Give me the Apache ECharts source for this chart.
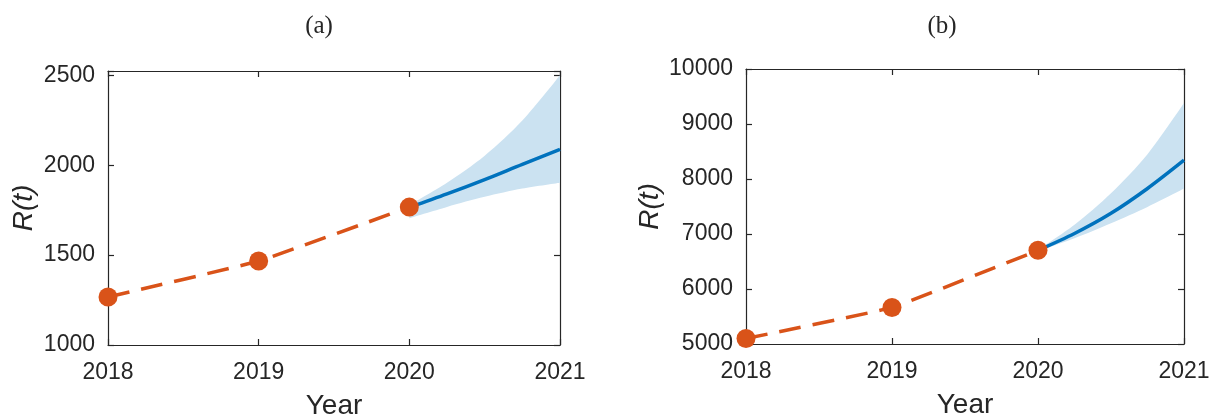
<!DOCTYPE html>
<html>
<head>
<meta charset="utf-8">
<script src="https://cdn.jsdelivr.net/npm/echarts@6/dist/echarts.min.js"></script>
<style>html,body{margin:0;padding:0;background:#fff}#c{width:1215px;height:417px}</style>
</head>
<body>
<div id="c"></div>
<script>
// ---- data ----
const obsYears = [2018, 2019, 2020];
const obsA = [1267, 1467, 1767];
const obsB = [5100, 5665, 6703];

const predYears = [2020, 2020.25, 2020.5, 2020.75, 2021];
const predA = [1765, 1840, 1920, 2005, 2088];
const lowA  = [1705, 1768, 1824, 1870, 1903];
const upA   = [1778, 1902, 2052, 2248, 2500];

const predB = [6703, 7010, 7377, 7828, 8342];
const lowB  = [6690, 6922, 7195, 7492, 7827];
const upB   = [6716, 7170, 7740, 8450, 9381];

const xTicks = [2018, 2019, 2020, 2021];
const yTicksA = [1000, 1500, 2000, 2500];
const yTicksB = [5000, 6000, 7000, 8000, 9000, 10000];
const titles = ['(a)', '(b)'];

// ---- styling ----
const AX = '#262626';
const BLUE = '#0072BD';
const ORANGE = '#D95319';
const BAND = '#cbe2f1';
const SANS = 'Liberation Sans, Arial, sans-serif';
const TICK_FONT = {fontFamily: SANS, fontSize: 23, color: AX};

function pairs(xs, ys) { return xs.map((x, i) => [x, ys[i]]); }
// value first, year second (so stacking acts on the value dimension)
function vtPairs(xs, ys) { return xs.map((x, i) => [ys[i], x]); }

function xAxes(gi) {
  const base = {
    gridIndex: gi, type: 'value', min: xTicks[0], max: xTicks[xTicks.length - 1], interval: 1,
    axisLine: {show: true, lineStyle: {color: AX, width: 1.2}},
    axisTick: {show: true, inside: true, length: 6, lineStyle: {color: AX, width: 1.2}},
    splitLine: {show: false}
  };
  return [
    Object.assign({}, base, {
      position: 'bottom',
      axisLabel: Object.assign({margin: 16, formatter: v => String(v)}, TICK_FONT),
      name: 'Year', nameLocation: 'middle', nameGap: 47,
      nameTextStyle: {fontFamily: SANS, fontSize: 28, color: AX}
    }),
    Object.assign({}, base, {position: 'top', axisLabel: {show: false}})
  ];
}

function yAxes(gi, ticks, max, gap) {
  const min = ticks[0];
  const step = ticks[1] - ticks[0];
  const base = {
    gridIndex: gi, type: 'value', min: min, max: max, interval: step,
    axisLine: {show: true, lineStyle: {color: AX, width: 1.2}},
    axisTick: {show: true, inside: true, length: 6, lineStyle: {color: AX, width: 1.2}},
    splitLine: {show: false}
  };
  return [
    Object.assign({}, base, {
      position: 'left',
      axisLabel: Object.assign({margin: 13, formatter: v => (ticks.indexOf(v) >= 0 ? String(v) : '')}, TICK_FONT),
      name: 'R(t)', nameLocation: 'middle', nameRotate: 90, nameGap: gap,
      nameTextStyle: {fontFamily: SANS, fontSize: 28, fontStyle: 'italic', color: AX}
    }),
    Object.assign({}, base, {position: 'right', axisLabel: {show: false}})
  ];
}

function panelSeries(ax, obs, pred, low, up) {
  const diff = up.map((u, i) => u - low[i]);
  const enc = {x: 1, y: 0};
  return [
    {type: 'line', xAxisIndex: ax, yAxisIndex: ax, stack: 'band' + ax, data: vtPairs(predYears, low), encode: enc,
     smooth: 0.3, symbol: 'none', lineStyle: {width: 0, opacity: 0}, silent: true, z: 1},
    {type: 'line', xAxisIndex: ax, yAxisIndex: ax, stack: 'band' + ax, data: vtPairs(predYears, diff), encode: enc,
     smooth: 0.3, symbol: 'none', lineStyle: {width: 0, opacity: 0}, areaStyle: {color: BAND, opacity: 1}, silent: true, z: 1},
    {type: 'line', xAxisIndex: ax, yAxisIndex: ax, data: pairs(predYears, pred),
     smooth: 0.3, symbol: 'none', lineStyle: {color: BLUE, width: 3.5}, z: 3},
    {type: 'line', xAxisIndex: ax, yAxisIndex: ax, data: pairs(obsYears, obs),
     smooth: 0.1, symbol: 'circle', symbolSize: 19, itemStyle: {color: ORANGE},
     lineStyle: {color: ORANGE, width: 3.5, type: [22, 12]}, z: 4}
  ];
}

const chart = echarts.init(document.getElementById('c'), null, {renderer: 'canvas'});
chart.setOption({
  animation: false,
  backgroundColor: '#ffffff',
  title: [
    {text: titles[0], left: 314, top: 9, textAlign: 'center',
     textStyle: {fontFamily: 'Liberation Serif, serif', fontSize: 25, fontWeight: 'normal', color: AX}},
    {text: titles[1], left: 937, top: 9, textAlign: 'center',
     textStyle: {fontFamily: 'Liberation Serif, serif', fontSize: 25, fontWeight: 'normal', color: AX}}
  ],
  grid: [
    {left: 108, top: 71, width: 452, height: 274, containLabel: false, outerBoundsMode: 'none'},
    {left: 746, top: 69, width: 438, height: 275, containLabel: false, outerBoundsMode: 'none'}
  ],
  xAxis: [].concat(xAxes(0), xAxes(1)),
  yAxis: [].concat(yAxes(0, yTicksA, 2524, 70), yAxes(1, yTicksB, 10000, 82)),
  series: [].concat(
    panelSeries(0, obsA, predA, lowA, upA),
    panelSeries(2, obsB, predB, lowB, upB)
  )
});
</script>
</body>
</html>
